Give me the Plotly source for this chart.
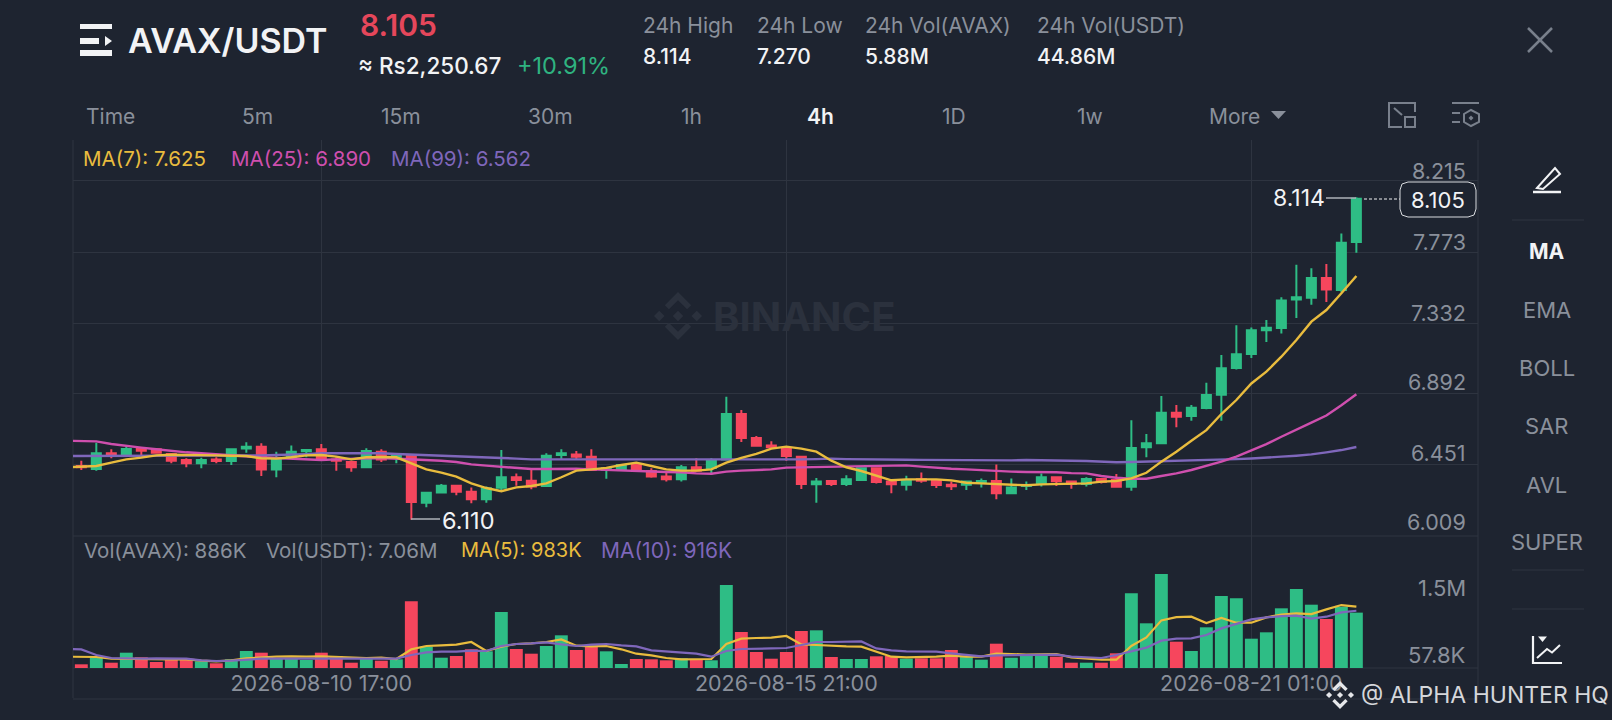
import pandas as pd
import plotly.graph_objects as go

# 4h candles
opens = [6.444,6.425,6.523,6.519,6.552,6.548,6.519,6.481,6.461,6.485,6.475,6.552,6.564,6.423,6.498,6.535,6.548,6.485,6.469,6.436,6.533,6.494,
         6.506,6.216,6.280,6.322,6.284,6.237,6.309,6.374,6.353,6.320,6.512,6.516,6.502,6.419,6.425,6.454,6.413,6.378,6.361,6.436,6.432,6.485,
         6.767,6.618,6.572,6.554,6.502,6.330,6.351,6.332,6.357,6.430,6.347,6.328,6.361,6.357,6.328,6.328,6.340,6.351,6.274,6.320,6.336,6.374,
         6.347,6.332,6.363,6.357,6.315,6.560,6.585,6.775,6.754,6.804,6.887,7.053,7.140,7.287,7.301,7.479,7.490,7.612,7.537,7.836]
highs = [6.477,6.589,6.548,6.574,6.560,6.554,6.523,6.492,6.496,6.498,6.554,6.591,6.585,6.533,6.572,6.548,6.581,6.498,6.477,6.554,6.548,6.523,
         6.510,6.282,6.332,6.325,6.311,6.316,6.544,6.398,6.423,6.523,6.548,6.537,6.548,6.436,6.454,6.465,6.430,6.403,6.450,6.492,6.492,6.875,
         6.792,6.630,6.597,6.564,6.506,6.369,6.357,6.386,6.432,6.436,6.349,6.384,6.403,6.359,6.347,6.353,6.367,6.454,6.367,6.347,6.398,6.378,
         6.353,6.374,6.367,6.394,6.729,6.643,6.879,6.823,6.823,6.961,7.133,7.318,7.305,7.351,7.492,7.695,7.672,7.699,7.889,8.114]
lows = [6.419,6.415,6.492,6.506,6.512,6.523,6.461,6.436,6.430,6.461,6.450,6.527,6.382,6.374,6.492,6.498,6.477,6.415,6.409,6.432,6.469,6.461,
        6.110,6.187,6.274,6.262,6.212,6.216,6.284,6.322,6.299,6.316,6.485,6.481,6.415,6.365,6.419,6.415,6.371,6.347,6.347,6.409,6.388,6.481,
        6.593,6.568,6.554,6.477,6.301,6.216,6.320,6.320,6.353,6.336,6.274,6.291,6.340,6.307,6.295,6.295,6.311,6.237,6.270,6.295,6.316,6.320,
        6.303,6.316,6.336,6.311,6.290,6.498,6.583,6.684,6.725,6.796,6.725,7.044,7.115,7.214,7.268,7.363,7.446,7.463,7.525,7.769]
closes = [6.436,6.523,6.506,6.550,6.539,6.527,6.477,6.461,6.481,6.475,6.548,6.564,6.423,6.481,6.533,6.544,6.481,6.477,6.436,6.537,6.485,6.506,
          6.220,6.278,6.322,6.284,6.237,6.305,6.374,6.357,6.316,6.508,6.523,6.502,6.419,6.430,6.450,6.419,6.378,6.361,6.436,6.415,6.477,6.767,
          6.618,6.570,6.560,6.506,6.332,6.347,6.332,6.361,6.430,6.345,6.330,6.353,6.353,6.326,6.318,6.347,6.351,6.274,6.311,6.326,6.374,6.349,
          6.332,6.363,6.345,6.315,6.556,6.585,6.775,6.750,6.806,6.885,7.051,7.138,7.287,7.303,7.473,7.492,7.612,7.541,7.831,8.105]
volumes = [59,171,85,245,171,96,139,128,107,75,139,272,245,149,149,128,245,192,85,155,117,139,1067,341,165,192,299,267,896,304,229,352,523,288,
           341,267,64,144,139,123,155,128,123,1328,576,256,149,256,592,603,176,144,144,187,192,149,155,155,288,192,133,389,165,192,192,181,85,85,
           85,235,1195,715,1504,421,272,651,1152,1115,469,571,955,1264,1013,784,981,886]

# moving averages start one candle earlier, that point sits off the left edge
ma7 = [6.436,6.438,6.444,6.465,6.485,6.496,6.510,6.514,6.514,6.512,6.510,6.508,6.506,6.492,6.490,6.498,6.510,6.512,6.502,6.485,6.498,6.500,6.498,
       6.461,6.423,6.403,6.378,6.336,6.307,6.287,6.311,6.320,6.336,6.374,6.415,6.423,6.432,6.450,6.465,6.444,6.423,6.415,6.415,6.423,6.465,6.494,
       6.519,6.552,6.564,6.552,6.533,6.477,6.436,6.413,6.382,6.355,6.361,6.361,6.361,6.355,6.340,6.336,6.332,6.326,6.324,6.330,6.332,6.334,6.336,
       6.347,6.351,6.367,6.402,6.471,6.533,6.601,6.667,6.767,6.854,6.957,7.030,7.123,7.227,7.341,7.413,7.517,7.625]
ma25 = [6.601,6.599,6.597,6.581,6.568,6.558,6.548,6.537,6.529,6.523,6.516,6.512,6.506,6.498,6.494,6.490,6.483,6.481,6.485,6.490,6.492,6.494,6.490,
        6.485,6.481,6.477,6.469,6.454,6.446,6.438,6.430,6.425,6.425,6.427,6.427,6.423,6.419,6.417,6.413,6.409,6.407,6.405,6.398,6.396,6.409,6.415,
        6.417,6.423,6.434,6.436,6.438,6.438,6.442,6.444,6.446,6.448,6.448,6.440,6.432,6.427,6.423,6.417,6.411,6.409,6.407,6.407,6.405,6.400,6.398,
        6.382,6.371,6.365,6.365,6.382,6.398,6.419,6.444,6.471,6.502,6.539,6.580,6.626,6.667,6.713,6.758,6.821,6.890]
ma99 = [6.506,6.506,6.506,6.506,6.506,6.506,6.507,6.507,6.507,6.507,6.507,6.508,6.509,6.510,6.512,6.514,6.518,6.523,6.524,6.525,6.524,6.523,6.519,
        6.516,6.513,6.510,6.506,6.502,6.498,6.494,6.490,6.485,6.485,6.485,6.485,6.485,6.484,6.483,6.483,6.482,6.481,6.481,6.481,6.481,6.485,6.485,
        6.485,6.485,6.485,6.485,6.487,6.490,6.487,6.487,6.487,6.485,6.483,6.482,6.481,6.480,6.479,6.478,6.477,6.479,6.481,6.481,6.479,6.477,6.475,
        6.471,6.467,6.469,6.471,6.475,6.477,6.479,6.481,6.483,6.487,6.491,6.495,6.502,6.508,6.516,6.529,6.543,6.562]
vol_ma5 = [181,181,176,149,144,144,139,139,139,117,107,123,155,171,181,187,181,187,176,160,160,165,144,299,352,362,373,416,272,341,384,394,416,458,
           357,346,352,299,229,203,160,139,139,144,384,469,480,485,512,378,368,352,346,341,267,181,171,171,181,197,181,181,229,224,213,219,224,171,
           149,133,133,352,490,762,815,821,720,800,725,725,810,853,874,863,938,1007,983]
vol_ma10 = [304,298,208,160,155,149,155,155,149,123,112,117,133,149,149,149,149,155,155,155,160,160,149,208,251,261,261,277,272,352,384,394,410,378,
            352,373,384,362,346,282,261,251,229,181,272,304,304,314,320,373,416,416,416,426,314,282,267,267,261,235,208,187,203,203,208,213,213,181,
            171,160,208,267,325,437,469,474,528,634,709,778,810,831,837,789,821,890,916]

times = pd.date_range("2026-08-08 01:00", periods=len(closes), freq="4h")
ma_times = pd.date_range("2026-08-07 21:00", periods=len(ma7), freq="4h")
x_ticks = ["2026-08-10 17:00", "2026-08-15 21:00", "2026-08-21 01:00"]
price_ticks = [8.215, 7.773, 7.332, 6.892, 6.451, 6.009]

BG = "#1e2430"
GRID = "#2e3440"
GRAY = "#8a909b"
ICON = "#79808c"
WHITE = "#f2f3f5"
UP = "#2ebd85"
DOWN = "#f6465d"
YELLOW = "#e9bc3e"
PINK = "#cf4fae"
PURPLE = "#7f67bb"
MARK = "#2b313d"
FONT = "Inter"

L, R, T, B = 73, 1478, 140, 698


def px(x):
    return (x - L) / (R - L)


def py(y):
    return (B - y) / (B - T)


annotations = []
shapes = []


def text(x, y, s, color=GRAY, size=20, anchor="left", weight=400):
    annotations.append(dict(x=px(x), y=py(y), xref="paper", yref="paper", text=s, showarrow=False,
                            xanchor=anchor, yanchor="middle", borderpad=0,
                            font=dict(family=FONT, size=size, color=color, weight=weight)))


def line(x0, y0, x1, y1, color=GRID, width=1, dash="solid", layer="below"):
    shapes.append(dict(type="line", xref="paper", yref="paper", x0=px(x0), y0=py(y0), x1=px(x1), y1=py(y1),
                       line=dict(color=color, width=width, dash=dash), layer=layer))


def path(points, color=GRAY, width=2, fill=None, close=False):
    d = "M " + " L ".join(f"{px(a)} {py(b)}" for a, b in points) + (" Z" if close else "")
    shapes.append(dict(type="path", xref="paper", yref="paper", path=d, fillcolor=fill,
                       line=dict(color=color, width=width), layer="above"))


def logo(cx, cy, r, color):
    # centre and side squares plus the two chevrons of the exchange mark
    s = r * 0.22
    for dx, dy in [(0, 0), (-r * 0.78, 0), (r * 0.78, 0)]:
        path([(cx + dx, cy + dy - s), (cx + dx + s, cy + dy), (cx + dx, cy + dy + s), (cx + dx - s, cy + dy)], color, 0, color, True)
    for sign in (-1, 1):
        path([(cx - r * 0.55, cy + sign * r * 0.45), (cx, cy + sign * r), (cx + r * 0.55, cy + sign * r * 0.45),
              (cx + r * 0.38, cy + sign * r * 0.28), (cx, cy + sign * r * 0.66), (cx - r * 0.38, cy + sign * r * 0.28)], color, 0, color, True)


fig = go.Figure()

fig.add_trace(go.Candlestick(
    x=times, open=opens, high=highs, low=lows, close=closes, xaxis="x", yaxis="y",
    increasing=dict(line=dict(color=UP, width=2), fillcolor=UP),
    decreasing=dict(line=dict(color=DOWN, width=2), fillcolor=DOWN),
    whiskerwidth=0, showlegend=False))
for vals, color in [(ma99, PURPLE), (ma25, PINK), (ma7, YELLOW)]:
    fig.add_trace(go.Scatter(x=ma_times, y=vals, mode="lines", xaxis="x", yaxis="y", showlegend=False,
                             line=dict(color=color, width=2.4)))

bar_colors = [UP if c >= o else DOWN for o, c in zip(opens, closes)]
fig.add_trace(go.Bar(x=times, y=volumes, xaxis="x2", yaxis="y2", marker=dict(color=bar_colors, line=dict(width=0)),
                     showlegend=False))
for vals, color in [(vol_ma5, YELLOW), (vol_ma10, PURPLE)]:
    fig.add_trace(go.Scatter(x=ma_times, y=vals, mode="lines", xaxis="x2", yaxis="y2", showlegend=False,
                             line=dict(color=color, width=2.2)))

# header
for pts in ([(80, 24), (112, 24), (112, 29), (80, 29)], [(80, 38), (99, 38), (99, 44), (80, 44)],
            [(80, 50), (112, 50), (112, 56), (80, 56)], [(105, 36), (112, 41), (105, 46)]):
    path(pts, color=WHITE, width=0, fill=WHITE, close=True)
text(127, 40, "AVAX/USDT", WHITE, 34, weight=600)
text(359, 25, "8.105", "#e5475b", 30, weight=600)
text(357, 66, "≈ Rs2,250.67", WHITE, 22.5, weight=500)
text(516, 66, "+10.91%", "#2fb380", 23.5)
stats = [(642, "24h High", "8.114"), (756, "24h Low", "7.270"), (864, "24h Vol(AVAX)", "5.88M"), (1036, "24h Vol(USDT)", "44.86M")]
for x, name, val in stats:
    text(x, 25, name, GRAY, 21)
    text(x, 57, val, WHITE, 21, weight=500)
line(1528, 28, 1552, 52, ICON, 2.5, layer="above")
line(1552, 28, 1528, 52, ICON, 2.5, layer="above")

# interval tabs
tabs = [(110, "Time"), (257, "5m"), (401, "15m"), (550, "30m"), (691, "1h"), (954, "1D"), (1090, "1w"), (1234, "More")]
for x, name in tabs:
    text(x, 116, name, GRAY, 21, "center")
text(820, 116, "4h", WHITE, 21, "center", 600)
path([(1271, 111), (1286, 111), (1278.5, 119)], GRAY, 0, GRAY, True)
path([(1415, 112), (1415, 103), (1389, 103), (1389, 127), (1402, 127)], ICON, 2)
path([(1405, 117), (1415, 117), (1415, 127), (1405, 127)], ICON, 2, close=True)
line(1394, 108, 1402, 115, ICON, 2, layer="above")
line(1452, 103, 1479, 103, ICON, 2, layer="above")
line(1452, 113, 1460, 113, ICON, 2, layer="above")
line(1452, 122, 1460, 122, ICON, 2, layer="above")
path([(1471, 110), (1479, 114), (1479, 122), (1471, 126), (1464, 122), (1464, 114)], ICON, 2, close=True)
path([(1471, 115.5), (1473.5, 118), (1471, 120.5), (1468.5, 118)], ICON, 0, ICON, True)

# indicator read-outs
text(82, 158, "MA(7): 7.625", YELLOW, 20.5)
text(230, 158, "MA(25): 6.890", PINK, 20.5)
text(390, 158, "MA(99): 6.562", PURPLE, 20.5)
text(83, 550, "Vol(AVAX): 886K", GRAY, 20.5)
text(265, 550, "Vol(USDT): 7.06M", GRAY, 20.5)
text(460, 550, "MA(5): 983K", YELLOW, 20)
text(600, 550, "MA(10): 916K", PURPLE, 21)

# price axis labels sit on top of their grid lines
for p, y in zip(price_ticks, [170.6, 241.6, 312.5, 382.4, 453.3, 522.2]):
    text(1467, y, f"{p:.3f}", GRAY, 21.5, "right")
text(1467, 588, "1.5M", GRAY, 22, "right")
text(1467, 655, "57.8K", GRAY, 22, "right")

# last price box and extremes
line(1364, 199, 1400, 199, WHITE, 1, "3px,2px", "above")
path([(1408, 182), (1468, 182), (1474, 184), (1476, 190), (1476, 209), (1474, 215), (1468, 217), (1408, 217), (1402, 215),
      (1400, 209), (1400, 190), (1402, 184)], "#d8dade", 1, BG, True)
text(1438, 200, "8.105", WHITE, 22, "center")
text(1326, 198, "8.114", WHITE, 23, "right")
line(1326, 198, 1356, 198, "#aeb2b9", 1.5, layer="above")
text(441, 520, "6.110", WHITE, 23.5)
line(411, 519, 440, 519, "#aeb2b9", 1.5, layer="above")

# watermark
text(712, 316, "BINANCE", MARK, 40, weight=700)
logo(678, 316, 24, MARK)

# sidebar
for y in (220, 570, 609):
    line(1512, y, 1584, y, GRID, 1, layer="above")
path([(1537, 188), (1555, 168), (1560, 174), (1543, 189)], WHITE, 2, close=True)
line(1533, 192, 1561, 192, WHITE, 2.5, layer="above")
text(1547, 251, "MA", WHITE, 21, "center", 700)
for y, name in [(310, "EMA"), (368, "BOLL"), (426, "SAR"), (485, "AVL"), (542, "SUPER")]:
    text(1547, y, name, GRAY, 22, "center")
path([(1533, 636), (1533, 663), (1562, 663)], WHITE, 2.2)
path([(1537, 658), (1547, 649), (1552, 652.5), (1560, 645)], WHITE, 2)
path([(1538, 636.5), (1547, 636.5), (1542.5, 642)], WHITE, 0, WHITE, True)

# frame
line(L, T, L, B)
line(R, T, R, B)
line(L, 536, R, 536)
line(L, 668, R, 668)
line(L, B + 1, R, B + 1)

# repost stamp
logo(1340, 695, 14, "#e6e7ea")
text(1360, 695, "@ ALPHA HUNTER HQ", "#d5d7db", 23)

x_range = ["2026-08-07 22:47", "2026-08-23 13:26"]
fig.update_layout(
    width=1612, height=720,
    margin=dict(l=L, r=1612 - R, t=T, b=720 - B, autoexpand=False),
    paper_bgcolor=BG, plot_bgcolor=BG,
    boxgap=0.14, bargap=0.14, hovermode=False,
    annotations=annotations, shapes=shapes,
    xaxis=dict(domain=[0, 1], anchor="y", range=x_range, rangeslider=dict(visible=False), tickvals=x_ticks,
               showticklabels=False, showgrid=True, gridcolor=GRID, gridwidth=1, zeroline=False, showline=False, ticks=""),
    yaxis=dict(domain=[py(536), 1], anchor="x", range=[6.009, 8.4697], tickvals=price_ticks, showticklabels=False,
               showgrid=True, gridcolor=GRID, gridwidth=1, zeroline=False, showline=False, ticks=""),
    xaxis2=dict(domain=[0, 1], anchor="y2", matches="x", tickvals=x_ticks, tickformat="%Y-%m-%d %H:%M",
                tickfont=dict(family=FONT, size=21.5, color=GRAY), showgrid=True, gridcolor=GRID, gridwidth=1,
                zeroline=False, showline=False, ticks=""),
    yaxis2=dict(domain=[py(668), py(536)], anchor="x2", range=[0, 2112], showticklabels=False, showgrid=False,
                zeroline=False, showline=False, ticks=""),
)

fig.write_html("out.html", config=dict(displayModeBar=False),
               post_script="document.body.style.margin='0';document.body.style.background='" + BG + "';")
